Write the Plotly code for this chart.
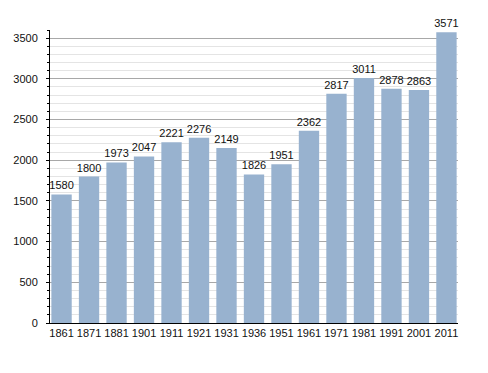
import plotly.graph_objects as go

years = ["1861", "1871", "1881", "1901", "1911", "1921", "1931", "1936",
         "1951", "1961", "1971", "1981", "1991", "2001", "2011"]
population = [1580, 1800, 1973, 2047, 2221, 2276, 2149, 1826,
              1951, 2362, 2817, 3011, 2878, 2863, 3571]
y_ticks = [0, 500, 1000, 1500, 2000, 2500, 3000, 3500]

fig = go.Figure()
fig.add_trace(go.Bar(
    x=years, y=population,
    marker=dict(color="#98b2cf", line=dict(width=0)),
    text=[str(v) for v in population],
    textposition="outside",
    constraintext="none",
    textfont=dict(family="Liberation Sans, Arial, sans-serif", size=11, color="#111"),
    cliponaxis=False,
))

fig.update_layout(
    width=480, height=365,
    margin=dict(l=42, r=30, t=22, b=50, autoexpand=False),
    paper_bgcolor="white", plot_bgcolor="white",
    bargap=0.26,
    showlegend=False,
    uniformtext=dict(minsize=11, mode="show"),
    font=dict(family="Liberation Sans, Arial, sans-serif", size=11, color="#111"),
)
fig.update_xaxes(
    type="category", range=[-0.42, 14.42], automargin=False,
    showline=True, linecolor="black", linewidth=1,
    showgrid=False, ticks="", tickfont=dict(size=11),
)
fig.update_yaxes(
    range=[0, 3600], tickvals=y_ticks, automargin=False,
    showline=True, linecolor="black", linewidth=1,
    showgrid=True, gridcolor="#a8a8a8", gridwidth=1,
    ticks="outside", ticklen=3, tickcolor="black",
    ticklabelstandoff=6,
    minor=dict(dtick=100, showgrid=True, gridcolor="#e4e4e4",
               ticks="outside", ticklen=2, tickcolor="black"),
    zeroline=False, tickfont=dict(size=11),
)

fig.write_html("out.html")
